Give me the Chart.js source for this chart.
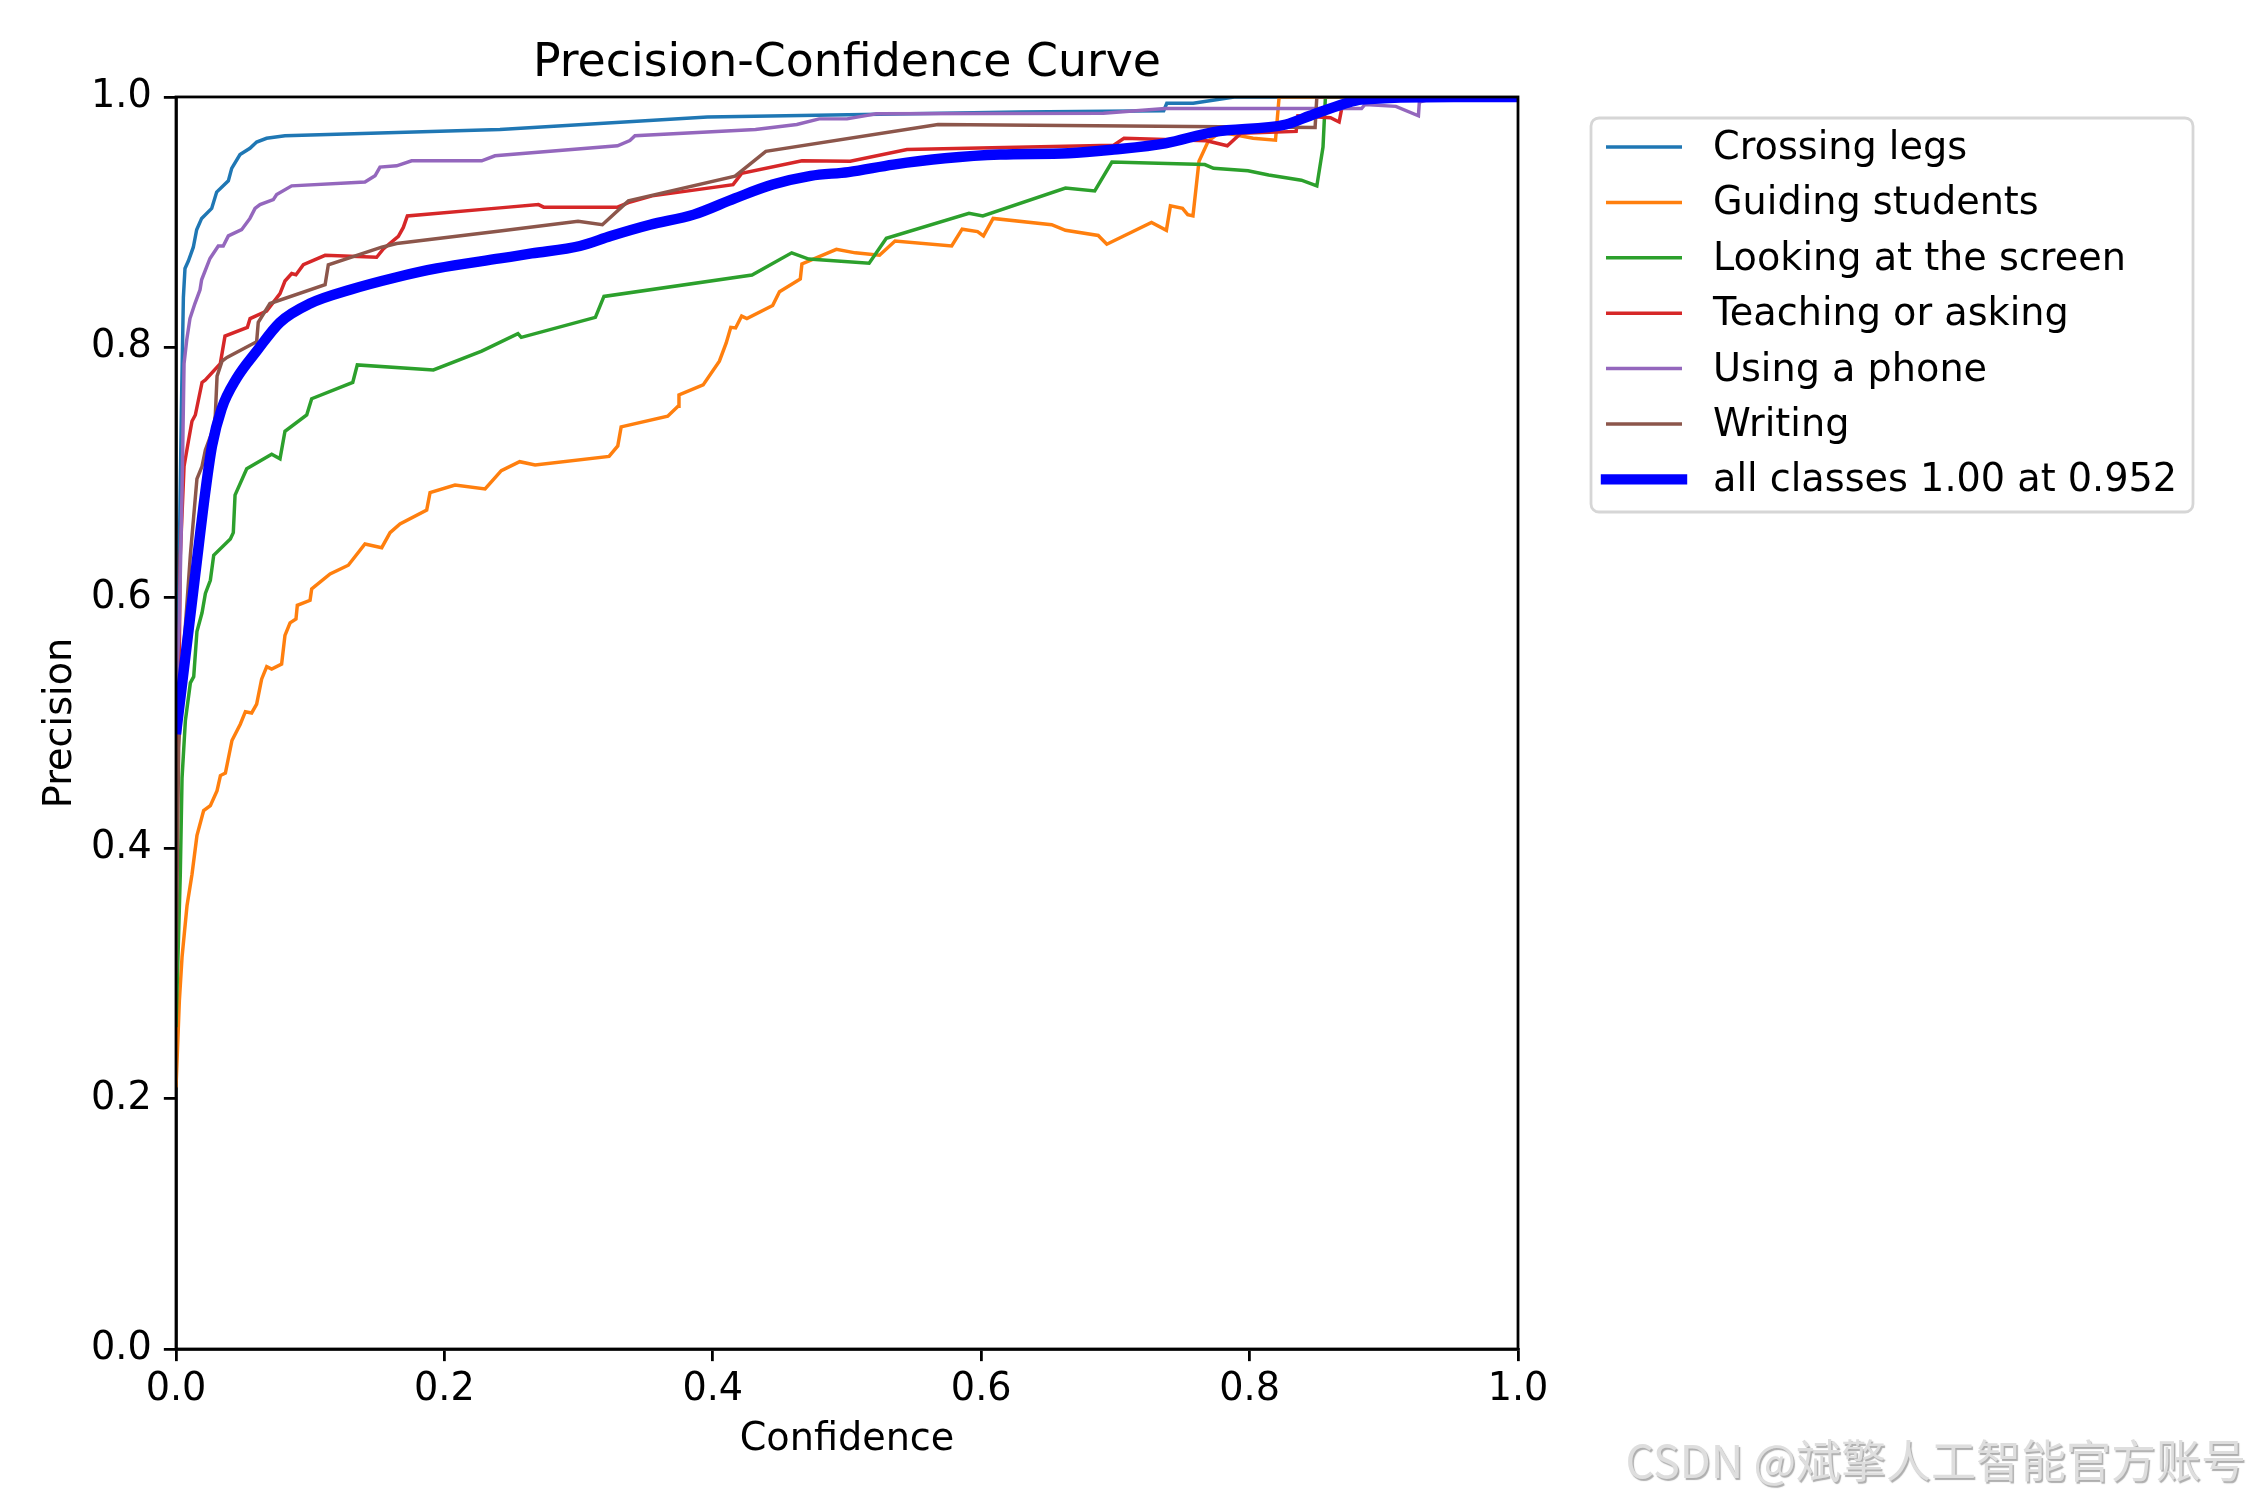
<!DOCTYPE html>
<html>
<head>
<meta charset="utf-8">
<script src="https://cdn.jsdelivr.net/npm/chart.js@4.4.1/dist/chart.umd.min.js"></script>
<style>
  html, body { margin: 0; padding: 0; background: #fff; }
  #wrap { width: 2250px; height: 1500px; position: relative; }
</style>
</head>
<body>
<div id="wrap"><canvas id="pc"></canvas></div>
<script>
(function () {
  "use strict";

  // [confidence, precision] pairs
  const crossingLegs = [[0,0.55],[0.002,0.6],[0.004,0.75],[0.0055,0.84],[0.0067,0.863],[0.0092,0.869],[0.0129,0.88],[0.0154,0.894],[0.0191,0.903],[0.0266,0.911],[0.0303,0.924],[0.039,0.933],[0.0415,0.943],[0.0477,0.954],[0.0551,0.959],[0.0601,0.964],[0.0675,0.967],[0.0812,0.969],[0.2414,0.974],[0.396,0.984],[0.629,0.988],[0.736,0.989],[0.7383,0.995],[0.758,0.995],[0.7885,1.0],[1.0,1.0]];
  const guidingStudents = [[0,0.209],[0.0025,0.278],[0.0045,0.313],[0.0082,0.354],[0.0119,0.379],[0.0156,0.41],[0.0206,0.43],[0.0256,0.434],[0.0306,0.446],[0.0331,0.458],[0.0368,0.46],[0.0417,0.486],[0.0479,0.499],[0.0517,0.509],[0.0564,0.508],[0.0601,0.515],[0.0638,0.535],[0.0676,0.545],[0.0713,0.543],[0.0787,0.547],[0.0812,0.57],[0.085,0.58],[0.0894,0.583],[0.0904,0.594],[0.0999,0.598],[0.1011,0.607],[0.1148,0.619],[0.1284,0.626],[0.1408,0.643],[0.1533,0.64],[0.1595,0.652],[0.1669,0.659],[0.1868,0.67],[0.1893,0.684],[0.2079,0.69],[0.2303,0.687],[0.2424,0.7015],[0.2561,0.7087],[0.2676,0.706],[0.3227,0.7129],[0.3292,0.7213],[0.3317,0.7365],[0.3664,0.745],[0.3741,0.753],[0.3748,0.762],[0.3928,0.77],[0.4049,0.789],[0.41,0.8035],[0.4134,0.816],[0.417,0.8155],[0.4215,0.825],[0.4254,0.823],[0.4446,0.8335],[0.4497,0.8445],[0.4652,0.8546],[0.4664,0.8666],[0.4921,0.8783],[0.5062,0.8755],[0.5242,0.8736],[0.5358,0.885],[0.578,0.881],[0.5858,0.8944],[0.5973,0.8925],[0.6017,0.889],[0.6089,0.903],[0.6525,0.898],[0.6628,0.8935],[0.6872,0.8894],[0.6936,0.8824],[0.7269,0.8998],[0.738,0.8935],[0.741,0.913],[0.75,0.911],[0.7539,0.906],[0.7578,0.905],[0.7623,0.9487],[0.7693,0.965],[0.7783,0.972],[0.8026,0.967],[0.8193,0.9655],[0.822,1.0],[1.0,1.0]];
  const lookingScreen = [[0,0.257],[0.0032,0.379],[0.0045,0.456],[0.007,0.502],[0.0107,0.532],[0.0132,0.537],[0.0156,0.573],[0.0194,0.588],[0.0219,0.6035],[0.0256,0.614],[0.0281,0.634],[0.0405,0.647],[0.0427,0.652],[0.044,0.682],[0.0527,0.703],[0.0713,0.7146],[0.0775,0.711],[0.0812,0.733],[0.0974,0.746],[0.1011,0.759],[0.1317,0.772],[0.1351,0.786],[0.1918,0.782],[0.2278,0.797],[0.2548,0.811],[0.2573,0.808],[0.3125,0.824],[0.3189,0.8407],[0.4292,0.8578],[0.4588,0.8755],[0.4715,0.8705],[0.5165,0.8672],[0.5293,0.8871],[0.5909,0.907],[0.6012,0.905],[0.6628,0.9272],[0.6846,0.925],[0.6974,0.948],[0.7666,0.946],[0.7731,0.943],[0.7988,0.941],[0.8142,0.9377],[0.8386,0.9335],[0.8501,0.9289],[0.8547,0.96],[0.8565,1.0],[1.0,1.0]];
  const teachingAsking = [[0,0.48],[0.0025,0.56],[0.0032,0.634],[0.006,0.705],[0.0094,0.726],[0.0119,0.741],[0.0144,0.746],[0.0194,0.772],[0.0219,0.774],[0.033,0.787],[0.0365,0.809],[0.0532,0.816],[0.0552,0.823],[0.0675,0.829],[0.0775,0.843],[0.0812,0.853],[0.0862,0.859],[0.0894,0.858],[0.0949,0.866],[0.1111,0.8735],[0.1495,0.872],[0.1545,0.8786],[0.1657,0.8887],[0.1694,0.8958],[0.1724,0.905],[0.2414,0.9114],[0.2701,0.914],[0.274,0.912],[0.329,0.912],[0.3371,0.9156],[0.3548,0.921],[0.4151,0.93],[0.4215,0.939],[0.4665,0.949],[0.5024,0.9486],[0.5447,0.958],[0.6987,0.9615],[0.7064,0.967],[0.7372,0.966],[0.768,0.965],[0.7834,0.961],[0.7936,0.971],[0.8347,0.9725],[0.836,0.985],[0.8603,0.9834],[0.8667,0.98],[0.8687,0.991],[0.875,1.0],[1.0,1.0]];
  const usingPhone = [[0,0.52],[0.0025,0.583],[0.0045,0.685],[0.006,0.787],[0.008,0.806],[0.0104,0.823],[0.0141,0.835],[0.0179,0.846],[0.0191,0.854],[0.0253,0.871],[0.0315,0.881],[0.0352,0.881],[0.039,0.889],[0.0489,0.894],[0.0551,0.903],[0.0589,0.911],[0.0626,0.914],[0.0725,0.918],[0.075,0.922],[0.0862,0.929],[0.1408,0.932],[0.1483,0.937],[0.152,0.944],[0.1644,0.945],[0.1756,0.949],[0.2278,0.949],[0.2377,0.953],[0.329,0.961],[0.3382,0.9652],[0.342,0.969],[0.4318,0.974],[0.4626,0.978],[0.4793,0.9825],[0.5,0.9825],[0.5218,0.9866],[0.691,0.987],[0.7372,0.9907],[0.8834,0.9907],[0.886,0.994],[0.909,0.9925],[0.9258,0.985],[0.9265,0.996],[0.94,1.0],[1.0,1.0]];
  const writing = [[0,0.3],[0.002,0.48],[0.0057,0.558],[0.0107,0.634],[0.0156,0.695],[0.0194,0.705],[0.0219,0.718],[0.0281,0.736],[0.0293,0.746],[0.0306,0.777],[0.0343,0.789],[0.038,0.792],[0.0601,0.8045],[0.0613,0.82],[0.07,0.835],[0.1111,0.85],[0.1135,0.866],[0.1533,0.88],[0.1644,0.883],[0.2414,0.893],[0.2996,0.9007],[0.3177,0.898],[0.3371,0.917],[0.4166,0.9367],[0.4395,0.9566],[0.5678,0.978],[0.8488,0.9756],[0.8501,1.0],[1.0,1.0]];
  const allClasses = [[0,0.491],[0.007,0.553],[0.0144,0.619],[0.0219,0.685],[0.0268,0.721],[0.034,0.751],[0.045,0.775],[0.0601,0.797],[0.0775,0.82],[0.0999,0.835],[0.1297,0.846],[0.1644,0.856],[0.1942,0.863],[0.2414,0.871],[0.265,0.875],[0.301,0.881],[0.324,0.889],[0.3532,0.898],[0.3857,0.906],[0.4164,0.919],[0.4446,0.93],[0.4729,0.937],[0.5011,0.94],[0.5345,0.946],[0.5729,0.951],[0.614,0.954],[0.665,0.955],[0.6987,0.958],[0.7372,0.963],[0.7731,0.972],[0.827,0.978],[0.845,0.985],[0.8706,0.9946],[0.8834,0.998],[0.952,1.0],[1.0,1.0]];

  const CLASS_NAMES = ["Crossing legs", "Guiding students", "Looking at the screen", "Teaching or asking", "Using a phone", "Writing"];
  const CLASS_DATA = [crossingLegs, guidingStudents, lookingScreen, teachingAsking, usingPhone, writing];
  const CLASS_COLORS = ["#1f77b4", "#ff7f0e", "#2ca02c", "#d62728", "#9467bd", "#8c564b"];
  const ALL_LABEL = "all classes 1.00 at 0.952";
  const X_TICKS = [0, 0.2, 0.4, 0.6, 0.8, 1.0];
  const Y_TICKS = [0, 0.2, 0.4, 0.6, 0.8, 1.0];

  const PT = 250 / 72;            // matplotlib points -> px at 250 dpi
  const FONT = "'DejaVu Sans', 'Liberation Sans', sans-serif";
  const FS = 38.2;                // text in the reference runs a bit larger than 10pt
  const TITLE_FS = 45.8;

  const toXY = (arr) => arr.map((p) => ({ x: p[0], y: p[1] }));

  const datasets = CLASS_DATA.map((d, i) => ({
    label: CLASS_NAMES[i], data: toXY(d), borderColor: CLASS_COLORS[i],
    backgroundColor: "transparent", borderWidth: 1 * PT, pointRadius: 0,
    tension: 0, clip: 0, order: -i,
  }));
  datasets.push({
    label: ALL_LABEL, data: toXY(allClasses), borderColor: "#0000ff",
    backgroundColor: "transparent", borderWidth: 3 * PT, pointRadius: 0,
    cubicInterpolationMode: "monotone", clip: 0, order: -10,
  });

  // top/right spines over the lines, legend box, watermark
  const decor = {
    id: "decor",
    afterDatasetsDraw(chart) {
      const { ctx, chartArea: a } = chart;
      ctx.save();
      ctx.strokeStyle = "#000";
      ctx.lineWidth = 0.8 * PT;
      ctx.strokeRect(a.left, a.top, a.right - a.left, a.bottom - a.top);
      ctx.restore();
    },
    afterDraw(chart) {
      const ctx = chart.ctx;
      ctx.save();
      // legend frame
      const bx = 1591, by = 118, bw = 602, bh = 394, r = 8;
      ctx.fillStyle = "rgba(255,255,255,0.8)";
      ctx.strokeStyle = "#d6d6d6";
      ctx.lineWidth = 0.8 * PT;
      ctx.beginPath();
      ctx.roundRect(bx, by, bw, bh, r);
      ctx.fill();
      ctx.stroke();
      ctx.font = FS + "px " + FONT;
      ctx.textBaseline = "middle";
      ctx.textAlign = "left";
      chart.data.datasets.forEach((ds, i) => {
        const y = 147 + i * 55.4;
        ctx.strokeStyle = ds.borderColor;
        ctx.lineWidth = ds.borderWidth;
        ctx.lineCap = i === 6 ? "square" : "butt";
        ctx.beginPath();
        ctx.moveTo(1606, y);
        ctx.lineTo(1682, y);
        ctx.stroke();
        ctx.fillStyle = "#000";
        ctx.fillText(ds.label, 1713, y + 2);
      });
      // watermark
      ctx.font = "45px 'Noto Sans CJK SC', sans-serif";
      ctx.textAlign = "right";
      ctx.textBaseline = "alphabetic";
      ctx.shadowColor = "rgba(120,120,120,0.6)";
      ctx.shadowOffsetX = 1.5;
      ctx.shadowOffsetY = 1.5;
      ctx.shadowBlur = 1;
      ctx.fillStyle = "#dedede";
      ctx.fillText("CSDN @斌擎人工智能官方账号", 2246, 1478);
      ctx.restore();
    },
  };

  const axisCommon = (ticks, pad) => ({
    type: "linear", min: 0, max: 1,
    afterBuildTicks(s) { s.ticks = ticks.map((v) => ({ value: v })); },
    ticks: {
      color: "#000", font: { size: FS }, padding: pad,
      maxRotation: 0, autoSkip: false,
      callback: (v) => Number(v).toFixed(1),
    },
    grid: {
      drawOnChartArea: false, drawTicks: true, tickLength: 3.5 * PT,
      color: "#000", lineWidth: 0.8 * PT,
    },
    border: { display: true, color: "#000", width: 0.8 * PT },
  });

  const xAxis = axisCommon(X_TICKS, 6);
  xAxis.title = { display: true, text: "Confidence", color: "#000", font: { size: FS }, padding: { top: 0, bottom: 37 } };
  xAxis.afterFit = (s) => { s.height = 151; };
  const yAxis = axisCommon(Y_TICKS, 3.5 * PT);
  yAxis.title = { display: true, text: "Precision", color: "#000", font: { size: FS }, padding: { top: 38, bottom: 0 } };
  yAxis.afterFit = (s) => { s.width = 176; };

  Chart.defaults.font.family = FONT;

  new Chart(document.getElementById("pc").getContext("2d"), {
    type: "line",
    data: { datasets },
    options: {
      responsive: true, maintainAspectRatio: false, animation: false,
      devicePixelRatio: 1, parsing: true,
      layout: { padding: { left: 0, right: 732, top: 0, bottom: 0 } },
      scales: { x: xAxis, y: yAxis },
      plugins: {
        legend: { display: false },
        tooltip: { enabled: false },
        title: {
          display: true, text: "Precision-Confidence Curve", color: "#000",
          font: { size: TITLE_FS, weight: "normal" }, fullSize: false,
          padding: { top: 37, bottom: 5 },
        },
      },
    },
    plugins: [decor],
  });
})();
</script>
</body>
</html>
